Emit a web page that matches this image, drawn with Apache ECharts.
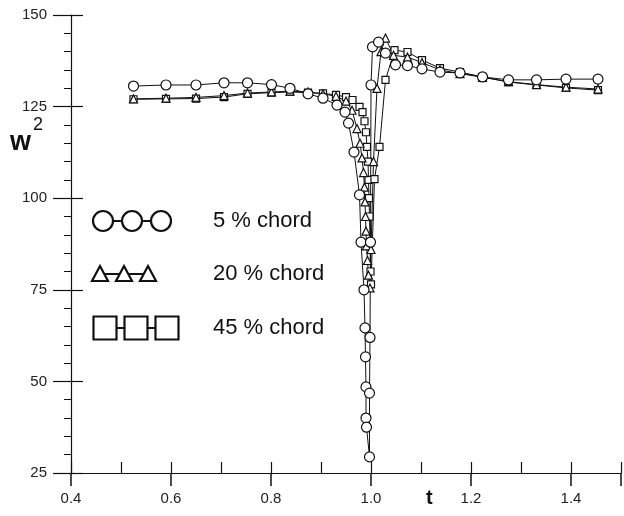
<!DOCTYPE html>
<html>
<head>
<meta charset="utf-8">
<script src="https://cdn.jsdelivr.net/npm/echarts@6/dist/echarts.min.js"></script>
<style>
  html, body { margin: 0; padding: 0; background: #fff; }
  #chart { width: 624px; height: 516px; }
</style>
</head>
<body>
<div id="chart"></div>
<script>
// w^2 versus t for three chord positions
const chord5 = [
  [0.525,130.6],[0.590,130.9],[0.650,130.9],[0.706,131.5],[0.753,131.5],[0.801,131.0],
  [0.838,130.0],[0.874,128.5],[0.904,127.3],[0.932,125.4],[0.948,123.5],[0.955,120.5],
  [0.966,112.6],[0.977,100.9],[0.980,88.0],[0.986,75.0],[0.988,64.6],[0.989,56.7],
  [0.990,48.5],[0.990,40.0],[0.991,37.5],[0.997,29.4],[0.997,46.8],[0.998,62.0],
  [0.999,88.0],[1.000,130.9],[1.003,141.3],[1.015,142.6],[1.029,139.6],[1.049,136.4],
  [1.073,136.2],[1.102,135.3],[1.138,134.4],[1.178,134.2],[1.223,133.1],[1.275,132.3],
  [1.331,132.3],[1.390,132.5],[1.454,132.5]
];
const chord20 = [
  [0.525,127.1],[0.590,127.3],[0.650,127.5],[0.706,128.0],[0.753,128.7],[0.801,129.0],
  [0.838,129.2],[0.874,129.0],[0.904,128.5],[0.930,127.8],[0.950,126.5],[0.962,124.0],
  [0.972,119.0],[0.978,115.0],[0.982,111.0],[0.985,107.0],[0.987,103.0],[0.988,99.0],
  [0.989,95.0],[0.990,91.0],[0.991,87.0],[0.993,83.0],[0.995,79.0],[0.998,75.5],
  [1.000,86.0],[1.005,110.0],[1.012,130.0],[1.020,140.0],[1.029,143.7],[1.045,139.0],
  [1.073,138.5],[1.102,137.0],[1.138,135.0],[1.178,134.0],[1.223,133.0],[1.275,131.8],
  [1.331,131.0],[1.390,130.3],[1.454,129.8]
];
const chord45 = [
  [0.525,127.0],[0.590,127.1],[0.650,127.2],[0.706,127.6],[0.753,128.5],[0.801,128.8],
  [0.838,129.0],[0.874,128.8],[0.904,128.6],[0.930,128.2],[0.950,127.6],[0.963,126.8],
  [0.977,124.9],[0.983,123.5],[0.987,121.0],[0.990,118.0],[0.992,114.0],[0.994,110.0],
  [0.995,105.0],[0.996,100.0],[0.997,95.0],[0.998,88.0],[0.999,80.0],[1.000,76.5],
  [1.007,105.2],[1.017,114.0],[1.029,132.3],[1.047,140.4],[1.073,139.9],[1.102,137.7],
  [1.138,135.5],[1.178,134.4],[1.223,133.1],[1.275,131.7],[1.331,130.9],[1.390,130.1],
  [1.454,129.5]
];
const legendNames = ['5 % chord', '20 % chord', '45 % chord'];

const ink = '#111';
const font = 'Liberation Sans, Arial, sans-serif';

function markerSeries(name, data, symbol, size) {
  return {
    name: name, type: 'line', data: data, xAxisIndex: 0, yAxisIndex: 0,
    symbol: symbol, symbolSize: size, showAllSymbol: true,
    lineStyle: { color: ink, width: 1 },
    itemStyle: { color: '#fff', borderColor: ink, borderWidth: 1.2 },
    emphasis: { disabled: true }, animation: false
  };
}

// legend drawn as marker rows with text
function legendRow(y, kind, label) {
  const els = [];
  let xs, size;
  if (kind === 'circle') { xs = [103, 132, 161]; size = 20; }
  else if (kind === 'triangle') { xs = [100, 124, 148]; size = 16; }
  else { xs = [105, 136, 167]; size = 23; }
  els.push({ type: 'line', shape: { x1: xs[0], y1: y, x2: xs[2], y2: y },
             style: { stroke: ink, lineWidth: 2 } });
  xs.forEach(function (x) {
    if (kind === 'circle') {
      els.push({ type: 'circle', shape: { cx: x, cy: y, r: size / 2 },
                 style: { fill: '#fff', stroke: ink, lineWidth: 2.2 } });
    } else if (kind === 'triangle') {
      els.push({ type: 'polygon', shape: { points: [[x, y - 8], [x - 8, y + 7], [x + 8, y + 7]] },
                 style: { fill: '#fff', stroke: ink, lineWidth: 2.2 } });
    } else {
      els.push({ type: 'rect', shape: { x: x - size / 2, y: y - size / 2, width: size, height: size },
                 style: { fill: '#fff', stroke: ink, lineWidth: 2.2 } });
    }
  });
  els.push({ type: 'text', x: 213, y: y, style: { text: label, fill: ink,
             font: '22px ' + font, textVerticalAlign: 'middle' } });
  return els;
}

const chart = echarts.init(document.getElementById('chart'), null, { renderer: 'canvas' });

const xCommon = { type: 'value', min: 0.4, max: 1.5, position: 'bottom', splitLine: { show: false } };
const yCommon = { type: 'value', min: 25, max: 150, position: 'left', splitLine: { show: false } };

chart.setOption({
  backgroundColor: '#fff',
  animation: false,
  grid: { left: 71, right: 0, top: 15, bottom: 43 },
  xAxis: [
    Object.assign({}, xCommon, {
      interval: 0.2,
      axisLine: { show: true, lineStyle: { color: ink, width: 1.2 } },
      axisTick: { show: true, inside: false, length: 13, lineStyle: { color: ink, width: 1.5 } },
      axisLabel: { color: '#222', fontFamily: font, fontSize: 15, margin: 18,
        formatter: function (v) { return v > 1.45 ? '' : v.toFixed(1); } }
    }),
    Object.assign({}, xCommon, {
      interval: 0.1,
      axisLine: { show: false },
      axisTick: { show: true, inside: true, length: 11, lineStyle: { color: ink, width: 1.2 } },
      axisLabel: { show: false }
    })
  ],
  yAxis: [
    Object.assign({}, yCommon, {
      interval: 25,
      axisLine: { show: true, lineStyle: { color: ink, width: 1.2 } },
      axisTick: { show: true, inside: false, length: 18, lineStyle: { color: ink, width: 1.2 } },
      axisLabel: { color: '#222', fontFamily: font, fontSize: 15, margin: 24 }
    }),
    Object.assign({}, yCommon, {
      interval: 5,
      axisLine: { show: false },
      axisTick: { show: true, inside: false, length: 7, lineStyle: { color: ink, width: 1 } },
      axisLabel: { show: false }
    }),
    Object.assign({}, yCommon, {
      interval: 25,
      axisLine: { show: false },
      axisTick: { show: true, inside: true, length: 12, lineStyle: { color: ink, width: 1.2 } },
      axisLabel: { show: false }
    })
  ],
  series: [
    markerSeries(legendNames[2], chord45, 'rect', 7),
    markerSeries(legendNames[1], chord20, 'triangle', 8),
    markerSeries(legendNames[0], chord5, 'circle', 10)
  ],
  graphic: [
    { type: 'text', x: 10, y: 143, style: { text: 'w', fill: ink, font: 'bold 27px ' + font, textVerticalAlign: 'middle' } },
    { type: 'text', x: 33, y: 125, style: { text: '2', fill: ink, font: '18px ' + font, textVerticalAlign: 'middle' } },
    { type: 'text', x: 426, y: 488, style: { text: 't', fill: ink, font: 'bold 20px ' + font } }
  ].concat(legendRow(221, 'circle', legendNames[0]))
   .concat(legendRow(274, 'triangle', legendNames[1]))
   .concat(legendRow(328, 'rect', legendNames[2]))
});
</script>
</body>
</html>
